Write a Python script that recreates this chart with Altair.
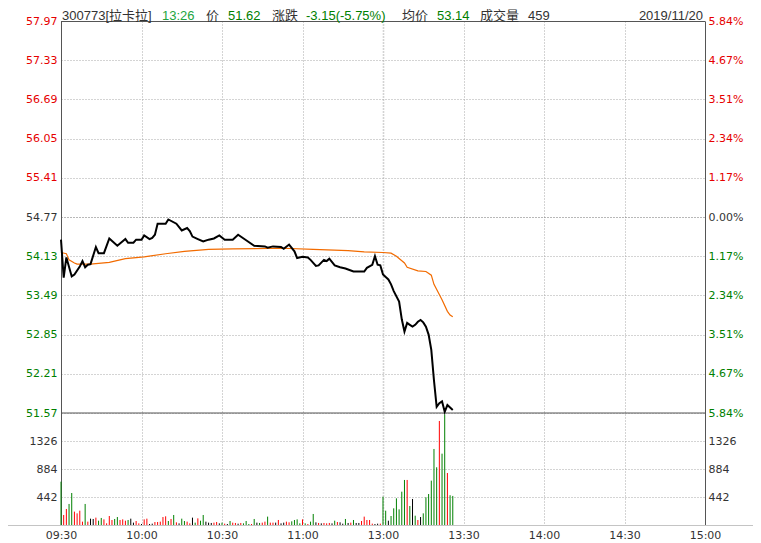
import altair as alt
import pandas as pd

# ---------------- data ----------------
prev_close = 54.77
price_ticks = [51.57, 52.21, 52.85, 53.49, 54.13, 54.77, 55.41, 56.05, 56.69, 57.33, 57.97]
pct_ticks = [-5.84, -4.67, -3.51, -2.34, -1.17, 0.0, 1.17, 2.34, 3.51, 4.67, 5.84]
vol_ticks = [442, 884, 1326]
vol_top = 1768
time_ticks = [0, 30, 60, 90, 120, 150, 180, 210, 240]
time_labels = ["09:30", "10:00", "10:30", "11:00", "13:00", "13:30", "14:00", "14:30", "15:00"]

price_min = [0, 1, 2, 4, 5, 7, 8, 9, 10, 11, 13, 14, 16, 18, 21, 24, 25, 27, 28, 30,
             31, 33, 34, 35, 36, 39, 40, 43, 45, 47, 48, 49, 51, 53, 55, 57, 59, 61, 64, 66,
             69, 72, 76, 77, 79, 82, 83, 85, 87, 88, 90, 92, 93, 95, 96, 98, 99, 100, 102, 104,
             106, 109, 113, 114, 116, 117, 118, 119, 120, 121, 122, 123, 124, 126, 127, 128, 129, 130, 131, 132,
             133, 134, 135, 136, 137, 138, 139, 140, 141, 142, 143, 144, 145, 146]
price_val = [54.40, 53.78, 54.11, 53.80, 53.83, 53.96, 54.05, 53.95, 53.99, 54.00, 54.28, 54.18, 54.18, 54.42, 54.30, 54.41, 54.35, 54.35, 54.40, 54.40,
             54.47, 54.41, 54.43, 54.48, 54.66, 54.66, 54.73, 54.66, 54.55, 54.59, 54.54, 54.45, 54.41, 54.37, 54.40, 54.42, 54.47, 54.40, 54.40, 54.48,
             54.39, 54.30, 54.29, 54.27, 54.29, 54.28, 54.25, 54.32, 54.21, 54.10, 54.12, 54.11, 54.07, 53.97, 53.98, 54.07, 54.05, 54.09, 53.98, 53.95,
             53.93, 53.88, 53.88, 53.94, 53.99, 54.13, 53.99, 53.98, 53.83, 53.79, 53.75, 53.67, 53.56, 53.39, 53.10, 52.90, 53.04, 53.01, 52.98, 53.01,
             53.06, 53.09, 53.05, 52.98, 52.85, 52.60, 52.10, 51.67, 51.73, 51.76, 51.59, 51.70, 51.66, 51.62]

avg_min = [0, 2, 3, 5, 6, 11, 18, 24, 31, 39, 46, 55, 64, 83, 94, 107, 113, 120, 123, 125,
           128, 129, 133, 136, 138, 139, 142, 144, 145, 146]
avg_val = [54.19, 54.17, 54.07, 54.02, 54.00, 54.00, 54.03, 54.09, 54.12, 54.17, 54.21, 54.24, 54.25, 54.26, 54.24, 54.22, 54.20, 54.19, 54.18, 54.13,
           54.02, 53.95, 53.89, 53.88, 53.82, 53.67, 53.42, 53.23, 53.17, 53.14]

vol_val = [684, 158, 253, 332, 505, 211, 184, 226, 53, 332,
           53, 100, 95, 116, 68, 111, 89, 26, 142, 79,
           95, 126, 79, 89, 68, 79, 100, 37, 63, 26,
           16, 89, 100, 16, 21, 47, 47, 53, 126, 137,
           63, 95, 158, 42, 26, 100, 63, 53, 26, 116,
           37, 105, 68, 158, 53, 37, 32, 37, 47, 26,
           37, 21, 16, 63, 37, 32, 21, 32, 26, 63,
           16, 16, 95, 37, 32, 37, 53, 132, 37, 37,
           37, 79, 26, 37, 53, 42, 58, 79, 89, 26,
           89, 26, 16, 53, 174, 42, 32, 26, 32, 26,
           32, 26, 68, 47, 42, 21, 95, 32, 37, 79,
           32, 32, 63, 132, 79, 79, 21, 16, 21, 21,
           447, 226, 68, 142, 263, 421, 247, 526, 711, 711,
           300, 411, 147, 79, 126, 184, 437, 489, 700, 1200,
           911, 1642, 1126, 1747, 821, 470, 459]
vol_dir = ["g", "r", "r", "g", "g", "r", "r", "r", "r", "g",
           "r", "k", "k", "r", "g", "g", "r", "r", "r", "r",
           "g", "g", "r", "r", "r", "g", "k", "k", "r", "r",
           "k", "r", "r", "k", "k", "r", "r", "r", "r", "r",
           "g", "r", "g", "r", "k", "g", "g", "r", "r", "k",
           "g", "r", "g", "g", "k", "k", "k", "r", "r", "k",
           "g", "r", "k", "g", "r", "r", "k", "r", "g", "g",
           "g", "r", "g", "k", "g", "r", "r", "g", "r", "r",
           "k", "r", "k", "k", "r", "r", "g", "g", "g", "g",
           "r", "g", "r", "g", "g", "k", "r", "k", "r", "r",
           "r", "k", "g", "r", "k", "k", "g", "k", "r", "g",
           "k", "k", "r", "r", "r", "r", "r", "k", "k", "r",
           "g", "g", "k", "g", "g", "g", "g", "g", "g", "r",
           "g", "k", "g", "r", "k", "g", "g", "g", "g", "g",
           "g", "r", "g", "g", "r", "g", "g"]

header_text = ["300773[拉卡拉]", "13:26", "价", "51.62", "涨跌", "-3.15(-5.75%)", "均价", "53.14", "成交量", "459"]
header_kind = ["label", "time", "label", "down", "label", "down", "label", "down", "label", "label"]
date_text = "2019/11/20"

# ---------------- layout / style ----------------
W, H = 644, 504
HP, HV = 392, 112
RED, GREEN, DARK = "#e60000", "#008000", "#333333"
GRID = "#a8a8a8"
BORDER = "#555555"
AX_FONT = "DejaVu Sans"
HD_FONT = "Liberation Sans, Noto Sans CJK SC"
header_x = [1, 101, 145, 167, 211, 245, 341, 376, 419, 467]
header_colors = {"label": DARK, "time": "#22a540", "down": GREEN}
DASH = [1, 2]

price_scale = alt.Scale(domain=[price_ticks[-1] - (price_ticks[-1] - price_ticks[0]) * H / HP, price_ticks[-1]], nice=False, zero=False)
pct_scale = alt.Scale(domain=[pct_ticks[-1] - (pct_ticks[-1] - pct_ticks[0]) * H / HP, pct_ticks[-1]], nice=False, zero=False)
vol_scale = alt.Scale(domain=[0, vol_top * H / HV], nice=False, zero=True)

x_labels_expr = "[" + ",".join(f"'{t}'" for t in time_labels) + "][indexof([" + ",".join(str(t) for t in time_ticks) + "], datum.value)]"
x_axis = alt.Axis(values=time_ticks, labelExpr=x_labels_expr, title=None, ticks=False, domain=False,
                  labelPadding=4, labelFlush=False, labelOverlap=False, labelColor=DARK,
                  labelFont=AX_FONT, labelFontSize=11,
                  grid=True, gridColor=GRID, gridDash=DASH,
                  gridWidth={"condition": {"test": "datum.value == 120", "value": 1.6}, "value": 1})
X = alt.X("t:Q", scale=alt.Scale(domain=[0, 240], nice=False, zero=False), axis=x_axis)

price_axis = alt.Axis(orient="left", values=price_ticks, format=".2f", title=None, ticks=False,
                      labelPadding=4, labelOverlap=False, labelFont=AX_FONT, labelFontSize=11,
                      labelColor={"condition": [{"test": f"datum.value > {prev_close + 0.001}", "value": RED},
                                                {"test": f"datum.value < {prev_close - 0.001}", "value": GREEN}],
                                  "value": DARK},
                      domainColor=BORDER, grid=True, gridDash=DASH,
                      gridColor={"condition": {"test": f"abs(datum.value - {prev_close}) < 0.001", "value": "#707070"}, "value": GRID})
pct_axis = alt.Axis(orient="right", values=pct_ticks, labelExpr="format(abs(datum.value), '.2f') + '%'",
                    title=None, ticks=False, labelPadding=3, labelOverlap=False, labelFont=AX_FONT, labelFontSize=11,
                    labelColor={"condition": [{"test": "datum.value > 0.001", "value": RED},
                                              {"test": "datum.value < -0.001", "value": GREEN}],
                                "value": DARK},
                    domainColor=BORDER, grid=False)
vol_left_axis = alt.Axis(orient="left", values=vol_ticks, format="d", title=None, ticks=False, domain=False,
                         labelPadding=4, labelOverlap=False, labelFont=AX_FONT, labelFontSize=11, labelColor=DARK,
                         grid=True, gridColor=GRID, gridDash=DASH)
vol_right_axis = alt.Axis(orient="right", values=vol_ticks, format="d", title=None, ticks=False, domain=False,
                          labelPadding=3, labelOverlap=False, labelFont=AX_FONT, labelFontSize=11, labelColor=DARK,
                          grid=False)

price_df = pd.DataFrame({"t": price_min, "p": price_val})
avg_df = pd.DataFrame({"t": avg_min, "a": avg_val})
vol_df = pd.DataFrame({"t": list(range(len(vol_val))), "v": vol_val, "d": vol_dir})

vol_layer = alt.Chart(vol_df).mark_rule(strokeWidth=1).encode(
    x=X,
    y=alt.Y("v:Q", scale=vol_scale, axis=vol_left_axis),
    y2=alt.datum(0),
    color=alt.Color("d:N", scale=alt.Scale(domain=["r", "g", "k"], range=["#ff0000", "#008000", "#000000"]), legend=None),
)
vol_right = alt.Chart(vol_df).mark_point(opacity=0).encode(
    x=X, y=alt.Y("v:Q", scale=vol_scale, axis=vol_right_axis)
)
sep_layer = alt.Chart(pd.DataFrame({"p": [price_ticks[0]]})).mark_rule(color=BORDER, strokeWidth=1).encode(
    y=alt.Y("p:Q", scale=price_scale, axis=None)
)
avg_layer = alt.Chart(avg_df).mark_line(color="#f26b00", strokeWidth=1.2).encode(
    x=X, y=alt.Y("a:Q", scale=price_scale, axis=None)
)
price_layer = alt.Chart(price_df).mark_line(color="#000000", strokeWidth=2).encode(
    x=X, y=alt.Y("p:Q", scale=price_scale, axis=price_axis)
)
pct_layer = alt.Chart(pd.DataFrame({"pct": pct_ticks})).mark_point(opacity=0).encode(
    y=alt.Y("pct:Q", scale=pct_scale, axis=pct_axis)
)
top_border = alt.Chart(pd.DataFrame({"k": [0]})).mark_rule(color=BORDER, strokeWidth=1).encode(
    x=alt.value(0), x2=alt.value(W), y=alt.value(0.5)
)
bottom_line = alt.Chart(pd.DataFrame({"k": [0]})).mark_rule(color="#c4c4c4", strokeWidth=1).encode(
    x=alt.value(-60), x2=alt.value(W + 60), y=alt.value(H + 0.5)
)

header_layers = []
for txt, kind, hx in zip(header_text, header_kind, header_x):
    header_layers.append(
        alt.Chart(pd.DataFrame({"s": [txt]})).mark_text(
            align="left", baseline="alphabetic", font=HD_FONT, fontSize=13, color=header_colors[kind]
        ).encode(x=alt.value(hx), y=alt.value(-1), text="s:N")
    )
header_layers.append(
    alt.Chart(pd.DataFrame({"s": [date_text]})).mark_text(
        align="right", baseline="alphabetic", font=HD_FONT, fontSize=13, color=DARK
    ).encode(x=alt.value(W - 2), y=alt.value(-1), text="s:N")
)

chart = alt.layer(
    vol_layer, vol_right, sep_layer, avg_layer, price_layer, pct_layer, top_border, bottom_line, *header_layers
).resolve_scale(y="independent").properties(
    width=W, height=H,
    autosize=alt.AutoSizeParams(type="none"),
    padding={"left": 53, "top": 13, "right": 48, "bottom": 16},
    background="white",
).configure_view(stroke=None)

chart.save("out.html", embed_options={"renderer": "svg", "actions": False})
